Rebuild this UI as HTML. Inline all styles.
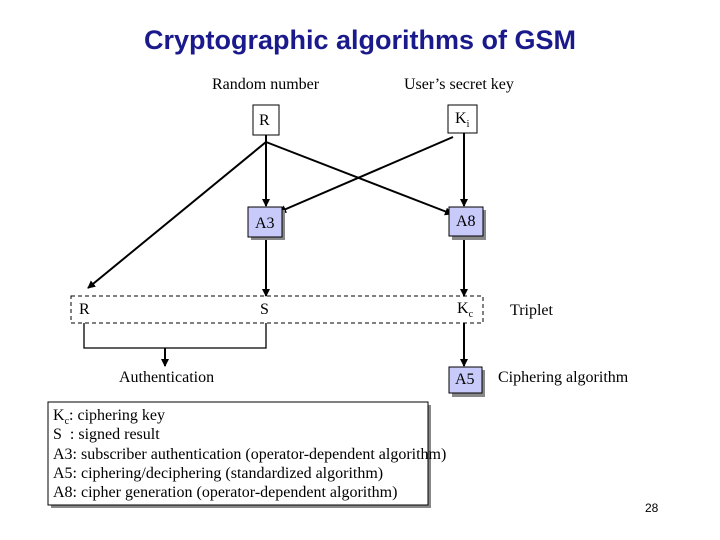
<!DOCTYPE html><html><head><style>
body{margin:0;width:720px;height:540px;background:#fff;overflow:hidden;position:relative;font-family:"Liberation Serif",serif;}
.t{position:absolute;font-size:16px;color:#000;white-space:nowrap;line-height:18px}
sub{line-height:0;font-size:10px}
</style></head><body>
<div class="t" style="left:0;width:720px;top:24px;text-align:center;font-family:'Liberation Sans',sans-serif;font-weight:bold;font-size:27px;line-height:32px;color:#1a1a8c">Cryptographic algorithms of GSM</div>
<svg width="720" height="540" style="position:absolute;left:0;top:0">
<defs><marker id="a" markerWidth="8" markerHeight="8" refX="7" refY="4" orient="auto" markerUnits="userSpaceOnUse"><path d="M0,0L8,4L0,8z"/></marker></defs>
<g stroke="#000" stroke-width="2" fill="none">
<line x1="266" y1="135" x2="266" y2="206" marker-end="url(#a)"/>
<line x1="464" y1="133" x2="464" y2="206" marker-end="url(#a)"/>
<line x1="266" y1="142" x2="452" y2="214" marker-end="url(#a)"/>
<line x1="453" y1="137" x2="279" y2="212" marker-end="url(#a)"/>
<line x1="266" y1="142" x2="88" y2="288" marker-end="url(#a)"/>
<line x1="266" y1="237" x2="266" y2="296" marker-end="url(#a)"/>
<line x1="464" y1="236" x2="464" y2="296" marker-end="url(#a)"/>
<line x1="464" y1="323" x2="464" y2="366" marker-end="url(#a)"/>
<line x1="165" y1="348" x2="165" y2="366" marker-end="url(#a)"/>
</g>
<polyline points="84,323 84,348 266,348 266,323" stroke="#000" stroke-width="1.3" fill="none"/>
<rect x="71" y="296" width="412" height="27" stroke="#000" stroke-width="1" stroke-dasharray="4,3" fill="none"/>
<rect x="253" y="105" width="26" height="30" fill="#fff" stroke="#000"/>
<rect x="448" y="105" width="29" height="28" fill="#fff" stroke="#000"/>
<rect x="251" y="210" width="34" height="30" fill="#888"/><rect x="248" y="207" width="34" height="30" fill="#c8cafa" stroke="#000"/>
<rect x="452" y="210" width="34" height="30" fill="#888"/><rect x="449" y="207" width="34" height="29" fill="#c8cafa" stroke="#000"/>
<rect x="452" y="370" width="33" height="27" fill="#888"/><rect x="449" y="367" width="33" height="26" fill="#c8cafa" stroke="#000"/>
<rect x="51" y="405" width="380" height="103" fill="#888"/><rect x="48" y="402" width="380" height="103" fill="#fff" stroke="#000"/>
</svg>
<div class="t" style="left:212px;top:76px">Random number</div>
<div class="t" style="left:404px;top:76px">User’s secret key</div>
<div class="t" style="left:259px;top:112px">R</div>
<div class="t" style="left:455px;top:110px">K<sub>i</sub></div>
<div class="t" style="left:255px;top:215px">A3</div>
<div class="t" style="left:456px;top:213px">A8</div>
<div class="t" style="left:79px;top:301px">R</div>
<div class="t" style="left:260px;top:301px">S</div>
<div class="t" style="left:457px;top:300px">K<sub>c</sub></div>
<div class="t" style="left:510px;top:302px">Triplet</div>
<div class="t" style="left:119px;top:369px">Authentication</div>
<div class="t" style="left:455px;top:371px">A5</div>
<div class="t" style="left:498px;top:369px">Ciphering algorithm</div>
<div class="t" style="left:53px;top:406px;line-height:19.3px">K<sub>c</sub>: ciphering key<br>S&nbsp; : signed result<br>A3: subscriber authentication (operator-dependent algorithm)<br>A5: ciphering/deciphering (standardized algorithm)<br>A8: cipher generation (operator-dependent algorithm)</div>
<div class="t" style="left:645px;top:499px;font-family:'Liberation Sans',sans-serif;font-size:12px">28</div>
</body></html>
